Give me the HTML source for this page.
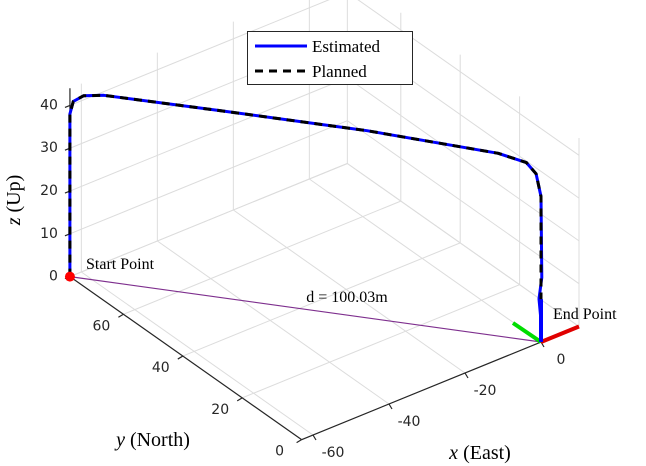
<!DOCTYPE html>
<html><head><meta charset="utf-8"><style>
html,body{margin:0;padding:0;background:#fff;}
svg{display:block;}
.tk{font-family:"DejaVu Sans","Liberation Sans",sans-serif;font-size:14px;fill:#262626;}
.sr{font-family:"Liberation Serif",serif;fill:#000;}
</style></head><body>
<svg id="c" width="646" height="466" viewBox="0 0 646 466"></svg>
<script>
const xTicks=[-60,-40,-20,0];
const yTicks=[0,20,40,60];
const zTicks=[0,10,20,30,40];
const estX=[-63,-63,-63,-62.5,-61,-58,-40,-20,-5,-1.5,-0.5,0,0.2,-0.3,0,0];
const estY=[78,78,78,77.5,76,73,55,33,8,3,1,0,0,0.3,0,0];
const estZ=[0,20,38,41,42.5,43,41.5,40.5,42,41,39,34,15,10,5,0];
const planX=[-63,-63,-63,-62.5,-61,-58,-40,-20,-5,-1.5,-0.5,0,0,0];
const planY=[78,78,78,77.5,76,73,55,33,8,3,1,0,0,0];
const planZ=[0,20,38,41,42.5,43,41.5,40.5,42,41,39,34,10,0];
const xlim=[-63,10], ylim=[0,78], zlim=[0,44];
const O=[541,342], ex=[3.8,-1.55], ey=[-2.97,-2.09], ez=[0,-4.28];
function P(x,y,z){return [O[0]+x*ex[0]+y*ey[0]+z*ez[0], O[1]+x*ex[1]+y*ey[1]+z*ez[1]];}
const svg=document.getElementById('c');
const NS='http://www.w3.org/2000/svg';
function mk(tag,attrs,parent){const e=document.createElementNS(NS,tag);for(const k in attrs)e.setAttribute(k,attrs[k]);(parent||svg).appendChild(e);return e;}
function line(a,b,st,w,name,dash){const e=mk('line',{x1:a[0],y1:a[1],x2:b[0],y2:b[1],stroke:st,'stroke-width':w});if(dash)e.setAttribute('stroke-dasharray',dash);

return e;}
const g='#dcdcdc';
xTicks.forEach(x=>{line(P(x,ylim[0],0),P(x,ylim[1],0),g,1,'floor-grid-x');});
yTicks.forEach(y=>{line(P(xlim[0],y,0),P(xlim[1],y,0),g,1,'floor-grid-y');});
line(P(xlim[0],ylim[1],0),P(xlim[1],ylim[1],0),g,1,'floor-edge');
line(P(xlim[1],ylim[0],0),P(xlim[1],ylim[1],0),g,1,'floor-edge');
xTicks.forEach(x=>{line(P(x,ylim[1],0),P(x,ylim[1],zlim[1]),g,1,'back-wall-grid-x');});
line(P(xlim[1],ylim[1],0),P(xlim[1],ylim[1],zlim[1]),g,1,'back-corner-edge');
line(P(xlim[1],ylim[0],0),P(xlim[1],ylim[0],zlim[1]),g,1,'right-wall-edge');
zTicks.forEach(z=>{line(P(xlim[0],ylim[1],z),P(xlim[1],ylim[1],z),g,1,'back-wall-grid-z');line(P(xlim[1],ylim[0],z),P(xlim[1],ylim[1],z),g,1,'side-wall-grid-z');});
yTicks.forEach(y=>{line(P(xlim[1],y,0),P(xlim[1],y,zlim[1]),g,1,'side-wall-grid-y');});
line(P(xlim[0],ylim[0],0),P(xlim[1]-8,ylim[0],0),'#262626',1.2,'x-axis-line');
line(P(xlim[0],ylim[0],0),P(xlim[0],ylim[1],0),'#262626',1.2,'y-axis-line');
line(P(xlim[0],ylim[1],0),P(xlim[0],ylim[1],zlim[1]),'#262626',1.2,'z-axis-line');
function txt(s,x,y,cls,name,anchor){const t=mk('text',{x:x,y:y,class:cls,'text-anchor':anchor||'middle'});t.textContent=s;

return t;}
xTicks.forEach(x=>{const p=P(x,ylim[0],0);line(p,[p[0]+3,p[1]+5],'#262626',1.2,'x-tick');txt(String(x),p[0]+20,p[1]+22,'tk','x-tick-label');});
yTicks.forEach(y=>{const p=P(xlim[0],y,0);line(p,[p[0]-5,p[1]+3],'#262626',1.2,'y-tick');txt(String(y),p[0]-22,p[1]+16,'tk','y-tick-label');});
zTicks.forEach(z=>{const p=P(xlim[0],ylim[1],z);line(p,[p[0]-5,p[1]+2],'#262626',1.2,'z-tick');txt(String(z),p[0]-12,p[1]+4,'tk','z-tick-label','end');});
const st=P(estX[0],estY[0],estZ[0]), en=P(0,0,0);
line(st,en,'#7e2f8e',1.2,'distance-line');
txt('d = 100.03m',347,302,'sr','distance-label').setAttribute('font-size','16');
function path(xs,ys,zs){return xs.map((x,i)=>{const p=P(x,ys[i],zs[i]);return (i?'L':'M')+p[0].toFixed(1)+','+p[1].toFixed(1);}).join('');}
const pe=mk('path',{d:path(estX,estY,estZ),fill:'none',stroke:'#0000ff','stroke-width':3,'stroke-linejoin':'round'});


const pp=mk('path',{d:path(planX,planY,planZ),fill:'none',stroke:'#000','stroke-width':3,'stroke-dasharray':'8,6','stroke-linejoin':'round'});


line(en,P(10,0,0),'#e00000',4,'end-frame-x');
line(en,P(0,0,0).map((v,i)=>v+[-28,-19][i]),'#00dd00',4,'end-frame-y');
line(en,P(0,0,10),'#0000ff',4,'end-frame-z');
const sp=mk('circle',{cx:st[0],cy:st[1],r:5,fill:'#ff0000'});


txt('Start Point',86,269,'sr','start-point-label','start').setAttribute('font-size','16');
txt('End Point',553,319,'sr','end-point-label','start').setAttribute('font-size','16');
const zt=txt('',20,200,'sr','z-axis-title');zt.setAttribute('font-size','20');zt.setAttribute('transform','rotate(-90 20 200)');
zt.innerHTML='<tspan font-style="italic">z</tspan> (Up)';
const yt=txt('',153,446,'sr','y-axis-title');yt.setAttribute('font-size','20');yt.innerHTML='<tspan font-style="italic">y</tspan> (North)';
const xt=txt('',480,459,'sr','x-axis-title');xt.setAttribute('font-size','20');xt.innerHTML='<tspan font-style="italic">x</tspan> (East)';
const lg=mk('g',{});


mk('rect',{x:247.5,y:31.5,width:165,height:53,fill:'#fff',stroke:'#262626','stroke-width':1},lg);
mk('line',{x1:255,y1:46,x2:307,y2:46,stroke:'#0000ff','stroke-width':3},lg);
mk('line',{x1:255,y1:71,x2:307,y2:71,stroke:'#000','stroke-width':3,'stroke-dasharray':'8,6'},lg);
const l1=mk('text',{x:312,y:52,class:'sr','font-size':17},lg);l1.textContent='Estimated';


const l2=mk('text',{x:312,y:77,class:'sr','font-size':17},lg);l2.textContent='Planned';


</script>
</body></html>
